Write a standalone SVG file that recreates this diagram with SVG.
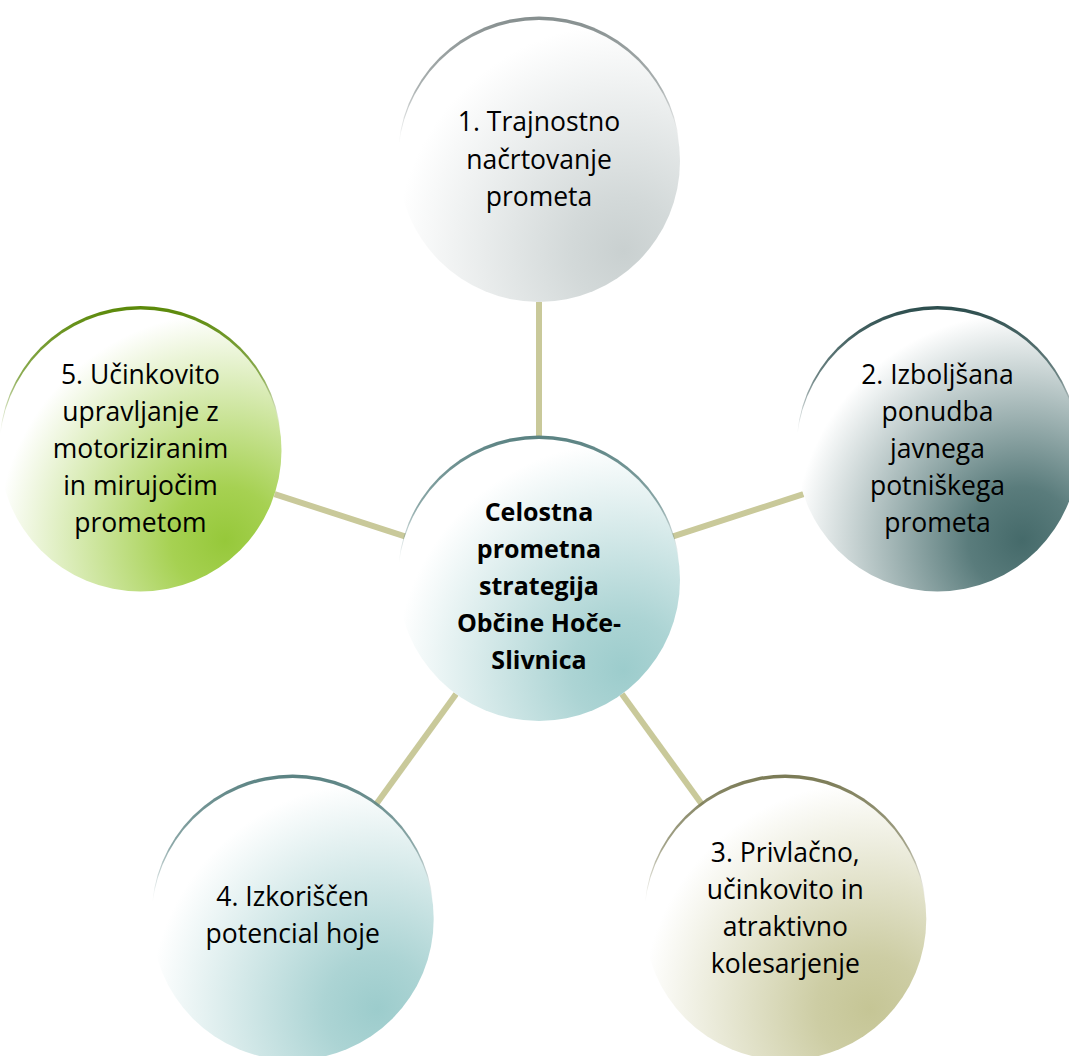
<svg xmlns="http://www.w3.org/2000/svg" width="1069" height="1056" viewBox="0 0 1069 1056">
  <defs>
    <style>
      .t { font-family: "Open Sans", "Liberation Sans", sans-serif; font-size: 26.5px; fill: #000; text-anchor: middle; }
      .tb { font-family: "Open Sans", "Liberation Sans", sans-serif; font-size: 25px; font-weight: bold; fill: #000; text-anchor: middle; }
      .conn { stroke: #c9c99a; stroke-width: 6; fill: none; }
    </style>
    <radialGradient id="gGray" cx="0.8" cy="0.82" r="0.95">
      <stop offset="0" stop-color="#c9d0d0"/>
      <stop offset="0.2" stop-color="#d3d9d9"/>
      <stop offset="0.85" stop-color="#ffffff"/>
    </radialGradient>
    <radialGradient id="gDark" cx="0.8" cy="0.82" r="0.95">
      <stop offset="0" stop-color="#456a6a"/>
      <stop offset="0.2" stop-color="#5a7c7c"/>
      <stop offset="0.85" stop-color="#ffffff"/>
    </radialGradient>
    <radialGradient id="gOlive" cx="0.8" cy="0.82" r="0.95">
      <stop offset="0" stop-color="#c5c595"/>
      <stop offset="0.2" stop-color="#cdcda4"/>
      <stop offset="0.85" stop-color="#ffffff"/>
    </radialGradient>
    <radialGradient id="gTeal" cx="0.8" cy="0.82" r="0.95">
      <stop offset="0" stop-color="#9ccccc"/>
      <stop offset="0.2" stop-color="#acd4d4"/>
      <stop offset="0.85" stop-color="#ffffff"/>
    </radialGradient>
    <radialGradient id="gGreen" cx="0.8" cy="0.82" r="0.95">
      <stop offset="0" stop-color="#96c83a"/>
      <stop offset="0.2" stop-color="#a6d152"/>
      <stop offset="0.85" stop-color="#ffffff"/>
    </radialGradient>
    <linearGradient id="cGray" x1="0" y1="0" x2="0" y2="1">
      <stop offset="0" stop-color="#868f8f"/>
      <stop offset="0.25" stop-color="#868f8f" stop-opacity="0.7"/>
      <stop offset="0.45" stop-color="#868f8f" stop-opacity="0"/>
    </linearGradient>
    <linearGradient id="cDark" x1="0" y1="0" x2="0" y2="1">
      <stop offset="0" stop-color="#2c4d4d"/>
      <stop offset="0.25" stop-color="#2c4d4d" stop-opacity="0.7"/>
      <stop offset="0.45" stop-color="#2c4d4d" stop-opacity="0"/>
    </linearGradient>
    <linearGradient id="cOlive" x1="0" y1="0" x2="0" y2="1">
      <stop offset="0" stop-color="#7a7a55"/>
      <stop offset="0.25" stop-color="#7a7a55" stop-opacity="0.7"/>
      <stop offset="0.45" stop-color="#7a7a55" stop-opacity="0"/>
    </linearGradient>
    <linearGradient id="cTeal" x1="0" y1="0" x2="0" y2="1">
      <stop offset="0" stop-color="#5a8282"/>
      <stop offset="0.25" stop-color="#5a8282" stop-opacity="0.7"/>
      <stop offset="0.45" stop-color="#5a8282" stop-opacity="0"/>
    </linearGradient>
    <linearGradient id="cGreen" x1="0" y1="0" x2="0" y2="1">
      <stop offset="0" stop-color="#5a8808"/>
      <stop offset="0.25" stop-color="#5a8808" stop-opacity="0.7"/>
      <stop offset="0.45" stop-color="#5a8808" stop-opacity="0"/>
    </linearGradient>
  </defs>
  <rect width="1069" height="1056" fill="#ffffff"/>

  <g id="connectors">
    <line class="conn" x1="539" y1="439" x2="539" y2="302"/>
    <line class="conn" x1="673.1" y1="536.4" x2="803.4" y2="494.1"/>
    <line class="conn" x1="621.9" y1="694.1" x2="702.4" y2="804.9"/>
    <line class="conn" x1="456.1" y1="694.1" x2="375.6" y2="804.9"/>
    <line class="conn" x1="404.9" y1="536.4" x2="274.6" y2="494.1"/>
  </g>

  <g id="node-center">
    <circle cx="539" cy="576.5" r="141" fill="url(#cTeal)"/>
    <circle cx="539" cy="580" r="141" fill="url(#gTeal)"/>
    <text class="tb" x="539" y="521">Celostna</text>
    <text class="tb" x="539" y="558">prometna</text>
    <text class="tb" x="539" y="595">strategija</text>
    <text class="tb" x="539" y="632">Občine Hoče-</text>
    <text class="tb" x="539" y="669">Slivnica</text>
  </g>

  <g id="node-1">
    <circle cx="539" cy="157.5" r="141" fill="url(#cGray)"/>
    <circle cx="539" cy="161" r="141" fill="url(#gGray)"/>
    <text class="t" x="539" y="131">1. Trajnostno</text>
    <text class="t" x="539" y="168.5">načrtovanje</text>
    <text class="t" x="539" y="206">prometa</text>
  </g>

  <g id="node-2">
    <circle cx="937.5" cy="447" r="141" fill="url(#cDark)"/>
    <circle cx="937.5" cy="450.5" r="141" fill="url(#gDark)"/>
    <text class="t" x="937.5" y="384">2. Izboljšana</text>
    <text class="t" x="937.5" y="421">ponudba</text>
    <text class="t" x="937.5" y="458">javnega</text>
    <text class="t" x="937.5" y="495">potniškega</text>
    <text class="t" x="937.5" y="532">prometa</text>
  </g>

  <g id="node-3">
    <circle cx="785.3" cy="915.5" r="141" fill="url(#cOlive)"/>
    <circle cx="785.3" cy="919" r="141" fill="url(#gOlive)"/>
    <text class="t" x="785.3" y="862">3. Privlačno,</text>
    <text class="t" x="785.3" y="899">učinkovito in</text>
    <text class="t" x="785.3" y="936">atraktivno</text>
    <text class="t" x="785.3" y="973">kolesarjenje</text>
  </g>

  <g id="node-4">
    <circle cx="292.7" cy="915.5" r="141" fill="url(#cTeal)"/>
    <circle cx="292.7" cy="919" r="141" fill="url(#gTeal)"/>
    <text class="t" x="292.7" y="906">4. Izkoriščen</text>
    <text class="t" x="292.7" y="943">potencial hoje</text>
  </g>

  <g id="node-5">
    <circle cx="140.5" cy="447" r="141" fill="url(#cGreen)"/>
    <circle cx="140.5" cy="450.5" r="141" fill="url(#gGreen)"/>
    <text class="t" x="140.5" y="384">5. Učinkovito</text>
    <text class="t" x="140.5" y="421">upravljanje z</text>
    <text class="t" x="140.5" y="458">motoriziranim</text>
    <text class="t" x="140.5" y="495">in mirujočim</text>
    <text class="t" x="140.5" y="532">prometom</text>
  </g>
</svg>
